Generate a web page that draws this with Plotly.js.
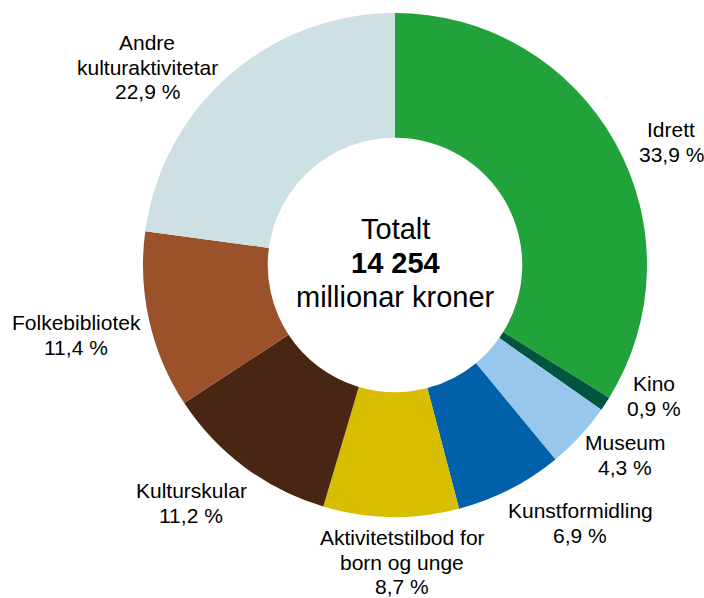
<!DOCTYPE html>
<html>
<head>
<meta charset="utf-8">
<script src="https://cdn.plot.ly/plotly-3.0.1.min.js"></script>
<style>html,body{margin:0;padding:0;background:#fff;}#chart{width:704px;height:598px;}</style>
</head>
<body>
<div id="chart"></div>
<script>
// Data
const categories = ["Idrett", "Kino", "Museum", "Kunstformidling", "Aktivitetstilbod for born og unge", "Kulturskular", "Folkebibliotek", "Andre kulturaktivitetar"];
const shares = [33.9, 0.9, 4.3, 6.9, 8.7, 11.2, 11.4, 22.9];
const labelLines = [["Idrett"], ["Kino"], ["Museum"], ["Kunstformidling"], ["Aktivitetstilbod for", "born og unge"], ["Kulturskular"], ["Folkebibliotek"], ["Andre", "kulturaktivitetar"]];
const centerLines = ["Totalt", "<b>14 254</b>", "millionar kroner"];

// Styles / positions
const colors = ["#22a23a", "#00553f", "#97c7ec", "#0060aa", "#d8be00", "#492614", "#9b5129", "#cde0e3"];
const labelPx = [[671, 142], [654, 396], [625, 455], [580, 523], [402, 562], [191, 503], [76, 335], [147, 67]];
const W = 704, H = 598;
const cx = 395, cy = 265, R = 252;
const FONT = "Liberation Sans, Arial, sans-serif";

const px2x = x => x / W;
const px2y = y => 1 - y / H;
const fmt = v => v.toFixed(1).replace(".", ",") + " %";

const annotations = [];
function addBlock(lines, x, yc, spacing, size) {
  const n = lines.length;
  lines.forEach((t, j) => {
    annotations.push({
      x: px2x(x), y: px2y(yc + (j - (n - 1) / 2) * spacing),
      xref: "paper", yref: "paper", xanchor: "center", yanchor: "middle",
      text: t, showarrow: false, align: "center",
      font: {family: FONT, size: size, color: "#000"}
    });
  });
}
categories.forEach((c, i) => {
  addBlock(labelLines[i].concat([fmt(shares[i])]), labelPx[i][0], labelPx[i][1], 24.5, 21);
});
addBlock(centerLines, cx, 263, 34, 29);

const trace = {
  type: "pie",
  labels: categories,
  values: shares,
  sort: false,
  direction: "clockwise",
  rotation: 0,
  hole: 0.505,
  textinfo: "none",
  hoverinfo: "label+percent",
  marker: {colors: colors, line: {width: 0}},
  domain: {x: [(cx - R) / W, (cx + R) / W], y: [1 - (cy + R) / H, 1 - (cy - R) / H]},
  showlegend: false
};

const layout = {
  width: W, height: H,
  margin: {l: 0, r: 0, t: 0, b: 0},
  paper_bgcolor: "#fff",
  showlegend: false,
  annotations: annotations
};

Plotly.newPlot("chart", [trace], layout, {displayModeBar: false, staticPlot: true});
</script>
</body>
</html>
